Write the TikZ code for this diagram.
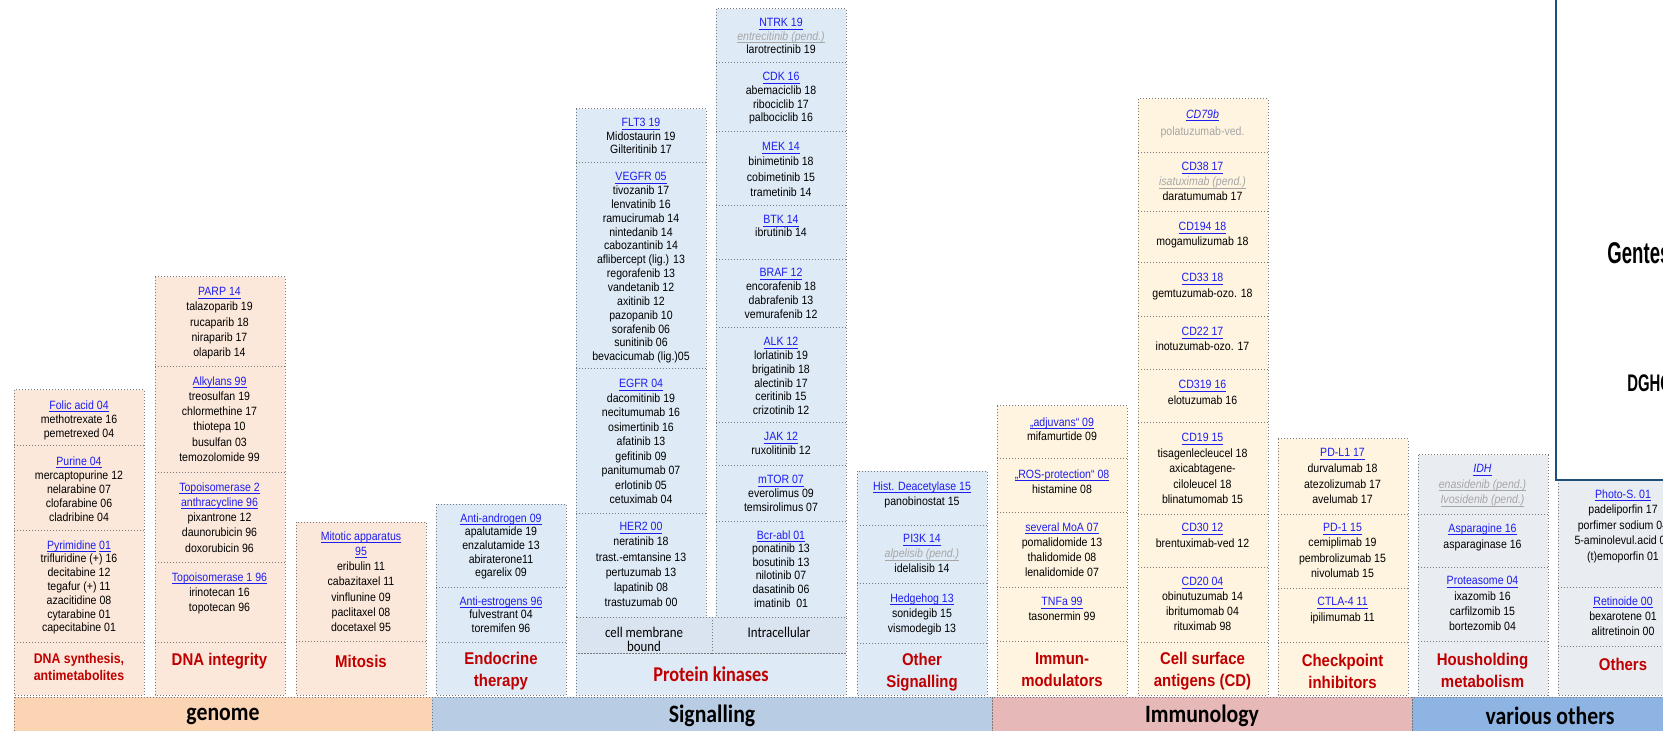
\documentclass[tikz,border=0pt]{standalone}
\usepackage{fontspec}
\setmainfont{Liberation Sans}[FakeStretch=0.88]
\newfontfamily\carl{Carlito}[FakeStretch=0.87]
\newfontfamily\narrowf{Liberation Sans}[FakeStretch=0.62]
\definecolor{genfill}{RGB}{252,232,218}
\definecolor{sigfill}{RGB}{222,234,246}
\definecolor{sigcell}{RGB}{218,227,240}
\definecolor{immfill}{RGB}{255,244,224}
\definecolor{othfill}{RGB}{233,236,241}
\definecolor{bgen}{RGB}{251,212,180}
\definecolor{bsig}{RGB}{184,204,228}
\definecolor{bimm}{RGB}{230,184,183}
\definecolor{both}{RGB}{141,180,226}
\definecolor{dotgrey}{RGB}{120,120,120}
\definecolor{hdblue}{RGB}{30,30,240}
\definecolor{labred}{RGB}{192,0,0}
\definecolor{pendgrey}{RGB}{166,166,166}
\definecolor{boxblue}{RGB}{31,78,121}
\newcommand\myul[1]{\setbox0\hbox{#1}\rlap{\vrule height -0.95pt depth 1.4pt width \wd0}\box0}
\newcommand\hd[1]{\textcolor{hdblue}{\myul{#1}}}
\newcommand\hdi[1]{\textcolor{hdblue}{\myul{\itshape #1}}}
\newcommand\pd[1]{\textcolor{pendgrey}{\myul{\itshape #1}}}
\newcommand\drawcol[5]{%
  \fill[#3] (#1,#2) rectangle (#1+130,#5);
  \foreach \yy in {#4} {\draw[dots] (#1,\yy) -- (#1+130,\yy);}
  \draw[dots] (#1,#2) rectangle (#1+130,#5);
}
\tikzset{
  dots/.style={draw=dotgrey, line width=0.5pt, dash pattern=on 0.5pt off 1pt},
  tx/.style={anchor=north, align=center, inner sep=0pt, font=\fontsize{6}{#1}\selectfont},
  tx/.default=7,
  lab/.style={anchor=center, align=center, inner sep=0pt, text=labred, font=\fontsize{8.5}{11}\selectfont\bfseries},
  bandlab/.style={anchor=center, inner sep=0pt, font=\carl\fontsize{12.5}{14}\selectfont\bfseries},
  sub/.style={anchor=center, align=center, inner sep=0pt, font=\carl\fontsize{7.4}{7}\selectfont},
  pk/.style={anchor=center, inner sep=0pt, text=labred, font=\carl\fontsize{10.5}{12}\selectfont\bfseries},
  band/.style={draw=dotgrey, line width=0.5pt, dash pattern=on 0.5pt off 1pt},
}
\begin{document}
\begin{tikzpicture}[x=0.5pt,y=-0.5pt]
\useasboundingbox (0,0) rectangle (1663,731);
\clip (0,0) rectangle (1663,731);
\fill[white] (0,0) rectangle (1663,731);

% ---------- columns ----------
\drawcol{14}{390}{genfill}{446,530,642}{695}
\drawcol{155}{277}{genfill}{367,472,562,642}{695}
\drawcol{296}{522}{genfill}{641}{695}
\drawcol{436}{504}{sigfill}{587,642}{695}
\drawcol{576}{109}{sigfill}{163,369,513}{617}
\drawcol{716}{9}{sigfill}{63,132,206,260,328,423,466,521}{617}
\fill[sigcell] (576,617) rectangle (846,653);
\fill[sigfill] (576,653) rectangle (846,695);
\draw[dots] (576,617) rectangle (712,653);
\draw[dots] (712,617) rectangle (846,653);
\draw[dots] (576,653) rectangle (846,695);
\drawcol{857}{471}{sigfill}{525,583,643}{695}
\drawcol{997}{406}{immfill}{459,512,587,641}{695}
\drawcol{1138}{99}{immfill}{153,212,263,317,370,423,514,567,642}{695}
\drawcol{1278}{439}{immfill}{514,588,642}{695}
\drawcol{1418}{455}{othfill}{514,567,641}{695}
\drawcol{1558}{480}{othfill}{587,646}{695}

% ---------- bands ----------
\fill[bgen] (14,697) rectangle (432,745);
\fill[bsig] (432,697) rectangle (992,745);
\fill[bimm] (992,697) rectangle (1412,745);
\fill[both] (1412,697) rectangle (1700,745);
\draw[band] (14,697) rectangle (432,745);
\draw[band] (432,697) rectangle (992,745);
\draw[band] (992,697) rectangle (1412,745);
\draw[band] (1412,697) rectangle (1700,745);
\node[bandlab] (bgenome) at (223,716) {genome};
\node[bandlab] (bsignal) at (712,716) {Signalling};
\node[bandlab] (bimmun) at (1202,716) {Immunology};
\node[bandlab] (bvarious) at (1550,716) {various others};

% ---------- blue framed box ----------
\draw[draw=boxblue, line width=1pt, fill=white] (1556,-20) rectangle (1720,480);
\node[anchor=west, inner sep=0pt, font=\narrowf\fontsize{15}{18}\selectfont\bfseries] (gentests) at (1607,253) {Gentests};
\node[anchor=west, inner sep=0pt, font=\narrowf\fontsize{12}{14}\selectfont\bfseries] (dgho) at (1627,383) {DGHO};

% ---------- column 1 ----------
\node[tx] (c1a) at (79,400) {\hd{Folic acid 04}\\methotrexate 16\\pemetrexed 04};
\node[tx] (c1b) at (79,456) {\hd{Purine 04}\\mercaptopurine 12\\nelarabine 07\\clofarabine 06\\cladribine 04};
\node[tx=6.9] (c1c) at (79,540) {\hd{Pyrimidine} \hd{01}\\trifluridine (+) 16\\decitabine 12\\tegafur (+) 11\\azacitidine 08\\cytarabine 01\\capecitabine 01};
\node[lab, font=\fontsize{7}{8.5}\selectfont\bfseries] (c1l) at (79,667) {DNA synthesis,\\antimetabolites};

% ---------- column 2 ----------
\node[tx=7.65] (c2a) at (219.5,287) {\hd{PARP 14}\\talazoparib 19\\rucaparib 18\\niraparib 17\\olaparib 14};
\node[tx=7.65] (c2b) at (219.5,376) {\hd{Alkylans 99}\\treosulfan 19\\chlormethine 17\\thiotepa 10\\busulfan 03\\temozolomide 99};
\node[tx=7.65] (c2c) at (219.5,482) {\hd{Topoisomerase 2}\\\hd{anthracycline 96}\\pixantrone 12\\daunorubicin 96\\doxorubicin 96};
\node[tx=7.65] (c2d) at (219.5,572) {\hd{Topoisomerase 1 96}\\irinotecan 16\\topotecan 96};
\node[lab] (c2l) at (219.5,661) {DNA integrity};

% ---------- column 3 ----------
\node[tx=7.65] (c3a) at (361,531) {\hd{Mitotic apparatus}\\\hd{95}\\eribulin 11\\cabazitaxel 11\\vinflunine 09\\paclitaxel 08\\docetaxel 95};
\node[lab] (c3l) at (361,661) {Mitosis};

% ---------- column 4 ----------
\node[tx=6.85] (c4a) at (501,513) {\hd{Anti-androgen 09}\\apalutamide 19\\enzalutamide 13\\abiraterone11\\egarelix 09};
\node[tx=6.8] (c4b) at (501,596) {\hd{Anti-estrogens 96}\\fulvestrant 04\\toremifen 96};
\node[lab] (c4l) at (501,671) {Endocrine\\therapy};

% ---------- column 5 ----------
\node[tx=6.75] (c5a) at (641,118) {\hd{FLT3 19}\\Midostaurin 19\\Gilteritinib 17};
\node[tx=6.92] (c5b) at (641,172) {\hd{VEGFR 05}\\tivozanib 17\\lenvatinib 16\\ramucirumab 14\\nintedanib 14\\cabozantinib 14\\aflibercept (lig.) 13\\regorafenib 13\\vandetanib 12\\axitinib 12\\pazopanib 10\\sorafenib 06\\sunitinib 06\\bevacicumab (lig.)05};
\node[tx=7.25] (c5c) at (641,379) {\hd{EGFR 04}\\dacomitinib 19\\necitumumab 16\\osimertinib 16\\afatinib 13\\gefitinib 09\\panitumumab 07\\erlotinib 05\\cetuximab 04};
\node[tx=7.6] (c5d) at (641,522) {\hd{HER2 00}\\neratinib 18\\trast.-emtansine 13\\pertuzumab 13\\lapatinib 08\\trastuzumab 00};
\node[sub] (c5m) at (644,639) {cell membrane\\bound};

% ---------- column 6 ----------
\node[tx=6.75] (c6a) at (781,18) {\hd{NTRK 19}\\\pd{entrecitinib (pend.)}\\larotrectinib 19};
\node[tx=6.85] (c6b) at (781,72) {\hd{CDK 16}\\abemaciclib 18\\ribociclib 17\\palbociclib 16};
\node[tx=7.65] (c6c) at (781,142) {\hd{MEK 14}\\binimetinib 18\\cobimetinib 15\\trametinib 14};
\node[tx=6.5] (c6d) at (781,215) {\hd{BTK 14}\\ibrutinib 14};
\node[tx=7] (c6e) at (781,268) {\hd{BRAF 12}\\encorafenib 18\\dabrafenib 13\\vemurafenib 12};
\node[tx=6.9] (c6f) at (781,337) {\hd{ALK 12}\\lorlatinib 19\\brigatinib 18\\alectinib 17\\ceritinib 15\\crizotinib 12};
\node[tx=7] (c6g) at (781,432) {\hd{JAK 12}\\ruxolitinib 12};
\node[tx=7] (c6h) at (781,475) {\hd{mTOR 07}\\everolimus 09\\temsirolimus 07};
\node[tx=6.8] (c6i) at (781,530) {\hd{Bcr-abl 01}\\ponatinib 13\\bosutinib 13\\nilotinib 07\\dasatinib 06\\imatinib\ \ 01};
\node[sub] (c6m) at (779,632) {Intracellular};
\node[pk] (pkin) at (711,674) {Protein kinases};

% ---------- column 7 ----------
\node[tx=7.5] (c7a) at (922,481) {\hd{Hist. Deacetylase 15}\\panobinostat 15};
\node[tx=7.5] (c7b) at (922,534) {\hd{PI3K 14}\\\pd{alpelisib (pend.)}\\idelalisib 14};
\node[tx=7.5] (c7c) at (922,593) {\hd{Hedgehog 13}\\sonidegib 15\\vismodegib 13};
\node[lab] (c7l) at (922,672) {Other\\Signalling};

% ---------- column 8 ----------
\node[tx=7] (c8a) at (1062,417) {\hd{„adjuvans“ 09}\\mifamurtide 09};
\node[tx=7.5] (c8b) at (1062,469) {\hd{„ROS-protection“ 08}\\histamine 08};
\node[tx=7.65] (c8c) at (1062,522) {\hd{several MoA 07}\\pomalidomide 13\\thalidomide 08\\lenalidomide 07};
\node[tx=7.5] (c8d) at (1062,597) {\hd{TNFa 99}\\tasonermin 99};
\node[lab] (c8l) at (1062,670) {Immun-\\modulators};

% ---------- column 9 ----------
\node[tx=8.5] (c9a) at (1202.5,109) {\hdi{CD79b}\\\textcolor{pendgrey}{polatuzumab-ved.}};
\node[tx=7.5] (c9b) at (1202.5,162) {\hd{CD38 17}\\\pd{isatuximab (pend.)}\\daratumumab 17};
\node[tx=7.5] (c9c) at (1202.5,222) {\hd{CD194 18}\\mogamulizumab 18};
\node[tx=8] (c9d) at (1202.5,273) {\hd{CD33 18}\\gemtuzumab-ozo. 18};
\node[tx=7.5] (c9e) at (1202.5,327) {\hd{CD22 17}\\inotuzumab-ozo. 17};
\node[tx=8] (c9f) at (1202.5,380) {\hd{CD319 16}\\elotuzumab 16};
\node[tx=7.75] (c9g) at (1202.5,433) {\hd{CD19 15}\\tisagenlecleucel 18\\axicabtagene-\\ciloleucel 18\\blinatumomab 15};
\node[tx=8] (c9h) at (1202.5,523) {\hd{CD30 12}\\brentuximab-ved 12};
\node[tx=7.5] (c9i) at (1202.5,577) {\hd{CD20 04}\\obinutuzumab 14\\ibritumomab 04\\rituximab 98};
\node[lab] (c9l) at (1202.5,671) {Cell surface\\antigens (CD)};

% ---------- column 10 ----------
\node[tx=7.85] (c10a) at (1342.5,448) {\hd{PD-L1 17}\\durvalumab 18\\atezolizumab 17\\avelumab 17};
\node[tx=7.65] (c10b) at (1342.5,523) {\hd{PD-1 15}\\cemiplimab 19\\pembrolizumab 15\\nivolumab 15};
\node[tx=8] (c10c) at (1342.5,597) {\hd{CTLA-4 11}\\ipilimumab 11};
\node[lab] (c10l) at (1342.5,671) {Checkpoint\\inhibitors};

% ---------- column 11 ----------
\node[tx=7.75] (c11a) at (1482.5,464) {\hdi{IDH}\\\pd{enasidenib (pend.)}\\\pd{Ivosidenib (pend.)}};
\node[tx=8] (c11b) at (1482.5,523) {\hd{Asparagine 16}\\asparaginase 16};
\node[tx=7.65] (c11c) at (1482.5,576) {\hd{Proteasome 04}\\ixazomib 16\\carfilzomib 15\\bortezomib 04};
\node[lab] (c11l) at (1482.5,670) {Housholding\\metabolism};

% ---------- column 12 ----------
\node[tx=7.75] (c12a) at (1623,489) {\hd{Photo-S. 01}\\padeliporfin 17\\porfimer sodium 04\\5-aminolevul.acid 07\\(t)emoporfin 01};
\node[tx=7.5] (c12b) at (1623,596) {\hd{Retinoide 00}\\bexarotene 01\\alitretinoin 00};
\node[lab] (c12l) at (1623,664) {Others};
\end{tikzpicture}
\end{document}
